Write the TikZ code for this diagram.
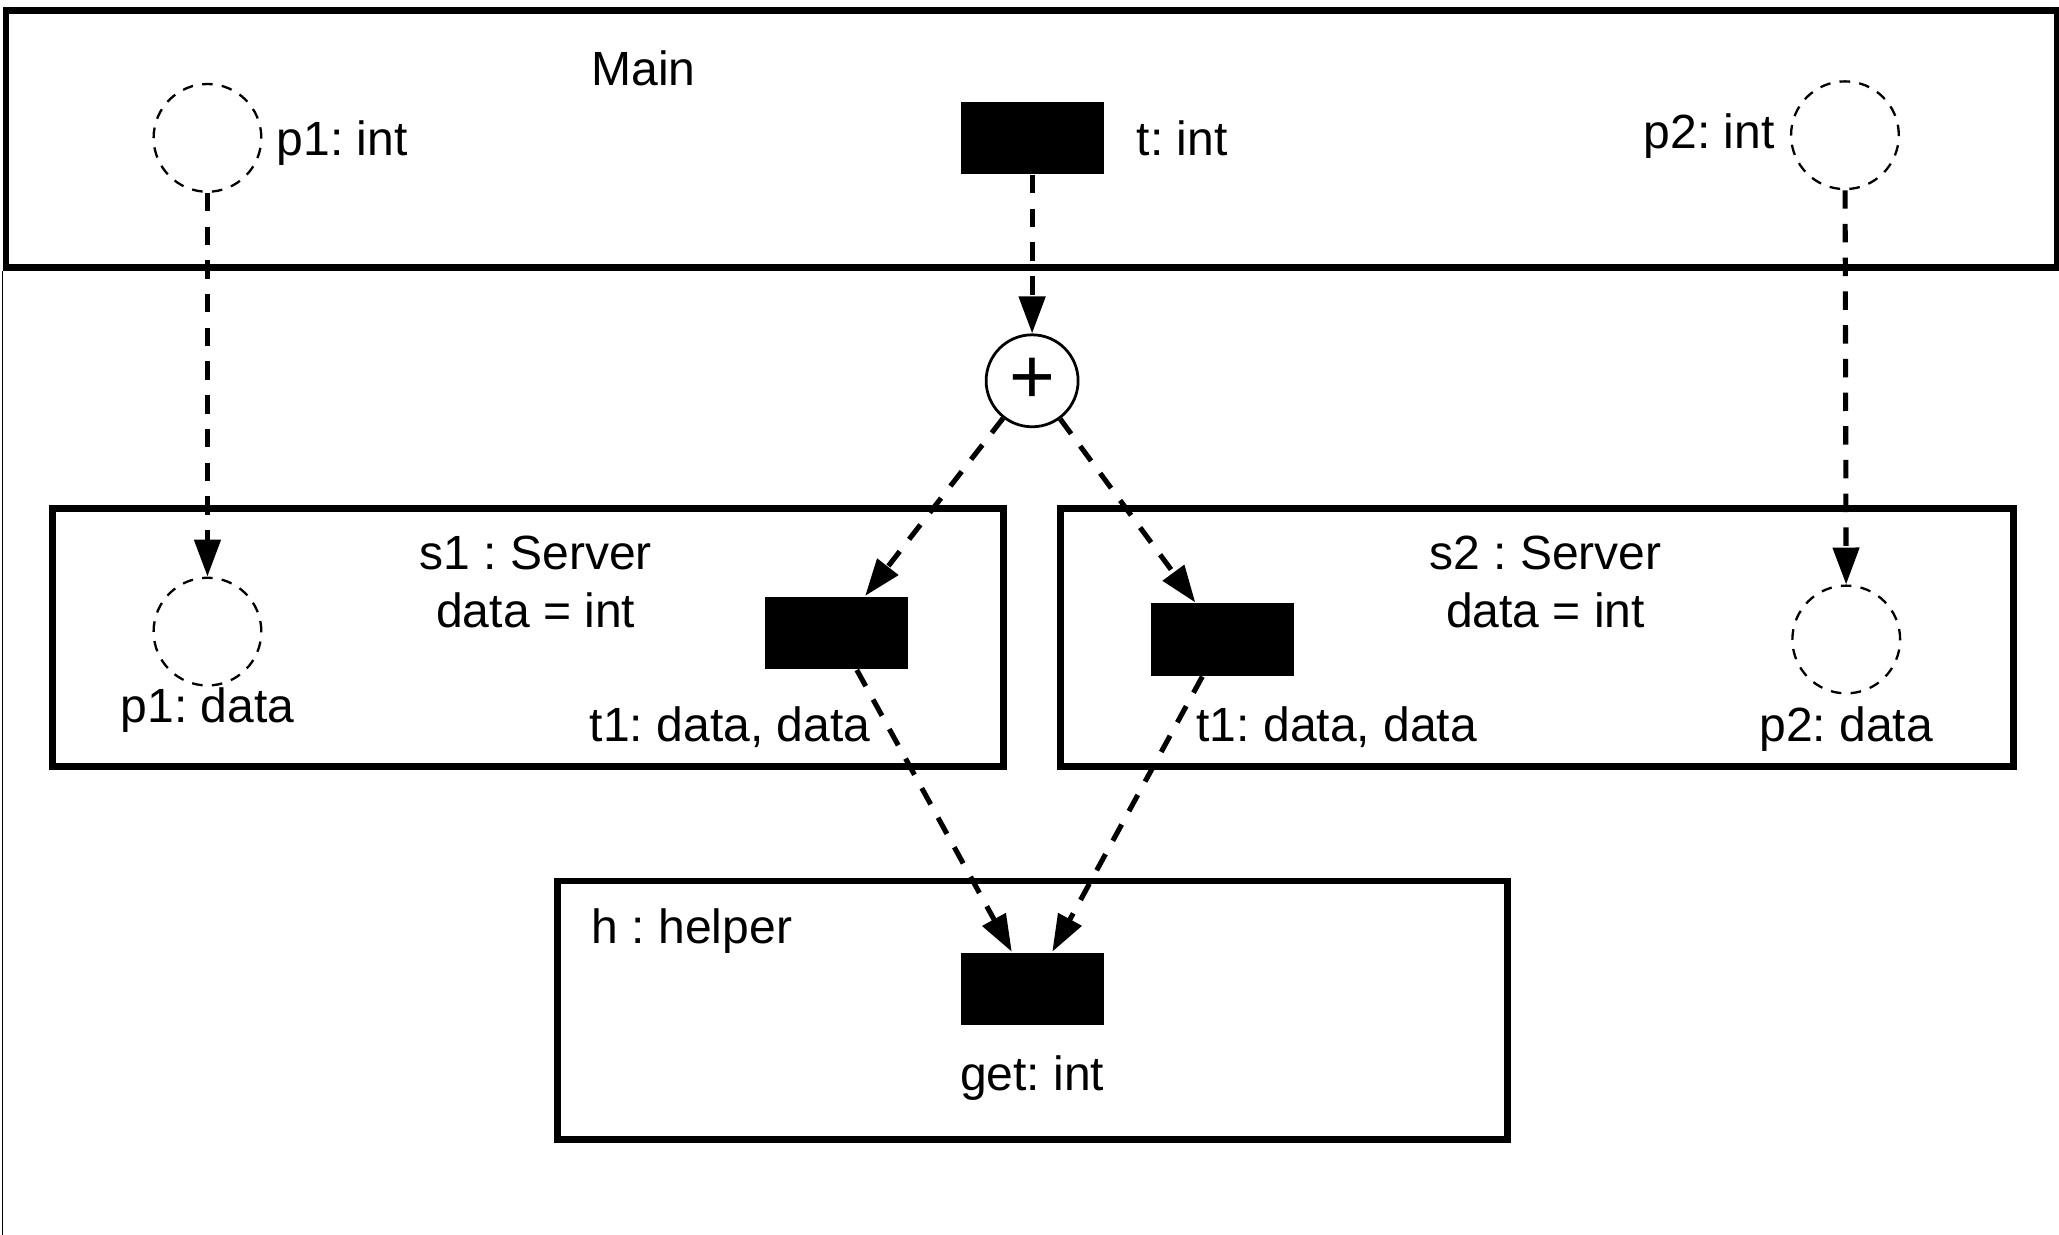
\documentclass[tikz,border=0pt]{standalone}
\usepackage{fontspec}
\setmainfont{Liberation Sans}
\usepackage{tikz}
\usetikzlibrary{arrows.meta,positioning}
\frenchspacing

\tikzset{
  box/.style={draw, line width=1.5pt, inner sep=0pt},
  place/.style={draw, circle, line width=0.5pt, dash pattern=on 2.3pt off 2pt,
                minimum size=0.82cm, inner sep=0pt},
  trans/.style={fill=black, minimum width=1.09cm, minimum height=0.55cm, inner sep=0pt},
  flow/.style={-{Triangle[length=8pt,width=5.6pt]}, line width=1.1pt,
               dash pattern=on 4pt off 3.3pt}
}

\begin{document}
\begin{tikzpicture}[x=0.01cm, y=-0.01cm,
    every node/.style={font=\fontsize{10.4}{12.5}\selectfont}]
  \useasboundingbox (0,0) rectangle (1568,940);
  % Main
  \node[box, minimum width=15.61cm, minimum height=1.96cm] (main) at (785.5,106) {};
  \draw[line width=0.4pt] (main.south west) -- ++(0,736);
  \draw[line width=0.4pt] (main.south east) -- ++(0,736);
  \node (mainlbl) at (490,52) {Main};
  \node[place] (p1) at (158,105) {};
  \node[anchor=west, inner sep=0pt] (p1lbl) at (210,109) {p1: int};
  \node[trans] (t) at (786,105) {};
  \node[anchor=west, inner sep=0pt] (tlbl) at (865,105) {t: int};
  \node[place] (p2) at (1405,103) {};
  \node[anchor=east, inner sep=0pt] (p2lbl) at (1352,104) {p2: int};
  \node[draw, circle, line width=0.6pt, minimum size=0.7cm, inner sep=0pt,
        font=\fontsize{17}{17}\selectfont] (plus) at (786,290) {+};
  % s1
  \node[box, minimum width=7.24cm, minimum height=1.97cm] (s1) at (402,485.5) {};
  \node[align=center] (s1lbl) at (408,443) {s1 : Server\\data = int};
  \node[place] (p1d) at (158,481) {};
  \node (p1dlbl) at (158,541) {p1: data};
  \node[trans] (t1a) at (637,482) {};
  \node (t1albl) at (556,554) {t1: data, data};
  % s2
  \node[box, minimum width=7.25cm, minimum height=1.97cm] (s2) at (1170.5,485.5) {};
  \node[align=center] (s2lbl) at (1177,443) {s2 : Server\\data = int};
  \node[trans] (t1b) at (931,487) {};
  \node (t1blbl) at (1018,554) {t1: data, data};
  \node[place] (p2d) at (1406,487) {};
  \node (p2dlbl) at (1406,555) {p2: data};
  % h
  \node[box, minimum width=7.23cm, minimum height=1.97cm] (h) at (786.5,769.5) {};
  \node[anchor=west, inner sep=0pt] (hlbl) at (450,709) {h : helper};
  \node[trans] (get) at (786,753) {};
  \node (getlbl) at (786,821) {get: int};
  % flows
  \draw[flow] (p1) -- (p1d);
  \draw[flow] (p2) -- (p2d);
  \draw[flow] (t) -- (plus);
  \draw[flow] (plus) -- (t1a);
  \draw[flow] (plus) -- (t1b);
  \draw[flow] (t1a) -- (get);
  \draw[flow] (t1b) -- (get);
\end{tikzpicture}
\end{document}
